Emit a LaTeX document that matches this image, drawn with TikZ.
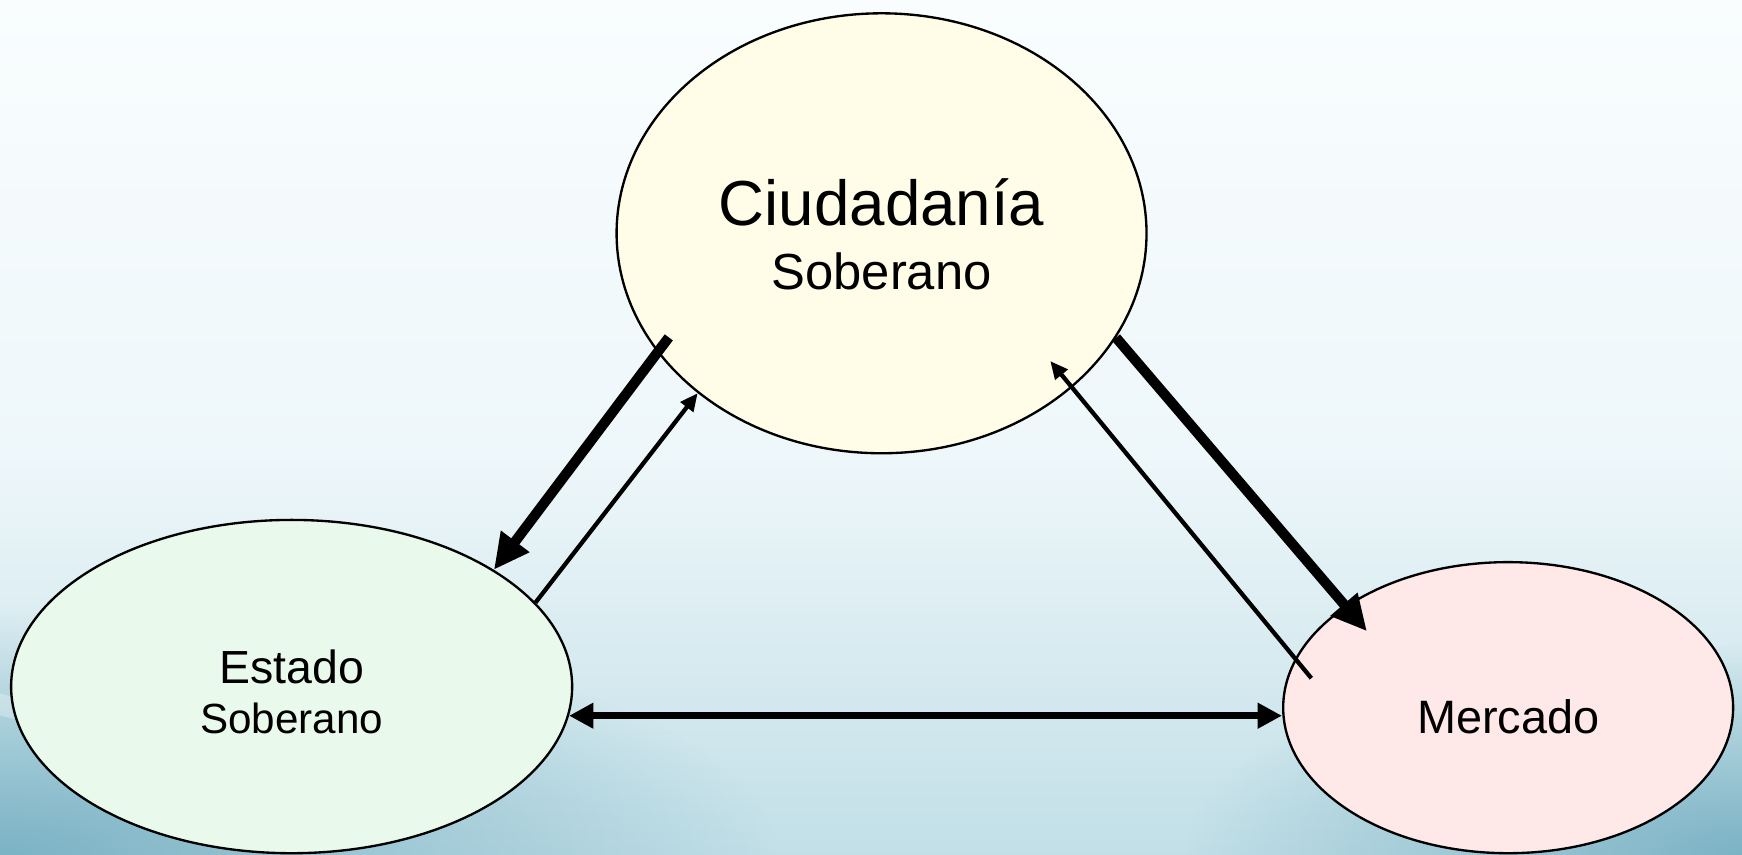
\documentclass[tikz,border=0pt]{standalone}
\usepackage{fontspec}
\setmainfont{Liberation Sans}
\usepackage{xcolor}
\usetikzlibrary{shapes.geometric, arrows.meta, fadings}

\definecolor{ciudfill}{HTML}{FFFDE7}
\definecolor{estfill}{HTML}{E9F9EC}
\definecolor{mercfill}{HTML}{FFE8E8}
\definecolor{bgtop}{HTML}{F9FDFE}
\definecolor{bgmid}{HTML}{EEF7FA}
\definecolor{bgbot}{HTML}{C2DFE7}
\definecolor{wave}{HTML}{6FABBF}

\tikzfading[name=esquina, inner color=transparent!15, outer color=transparent!100]

\tikzset{
  blob/.style={ellipse, draw=black, line width=0.6pt, inner sep=0pt},
  fuerte/.style={line width=2.6pt, -{Triangle[length=3.2mm,width=3mm]}},
  debil/.style={line width=1.1pt, -{Triangle[length=1.6mm,width=1.4mm]}},
  doble/.style={line width=1.8pt, {Triangle[length=2.2mm,width=2.2mm]}-{Triangle[length=2.2mm,width=2.2mm]}}
}

\begin{document}
\begin{tikzpicture}
        \useasboundingbox (0,0) rectangle (15.68,7.69);
        % fondo
        \shade[top color=bgtop, bottom color=bgmid] (0,3.6) rectangle (15.68,7.69);
        \shade[top color=bgmid, bottom color=bgbot] (0,0) rectangle (15.68,3.6);
        \fill[wave, path fading=esquina] (0,0) ellipse [x radius=7cm, y radius=2.2cm];
        \fill[wave, path fading=esquina] (15.68,0) ellipse [x radius=5cm, y radius=1.9cm];
        \fill[white, opacity=0.3] (0,1.45) .. controls (0.8,1.2) and (1.6,1.0) .. (3,0.75) .. controls (1.6,0.9) and (0.8,1.05) .. (0,1.25) -- cycle;

        % elipses
        \node[blob, fill=ciudfill, minimum width=4.77cm, minimum height=3.96cm] (ciud) at (7.935,5.59) {};
        \node[blob, fill=estfill, minimum width=5.05cm, minimum height=3.0cm] (estado) at (2.625,1.51) {};
        \node[blob, fill=mercfill, minimum width=4.05cm, minimum height=2.62cm] (merc) at (13.575,1.32) {};

        % textos
        \node[anchor=base] (ciudA) at (7.935,5.66) {\fontsize{16.3}{19}\selectfont Ciudadanía};
        \node[anchor=base] (ciudB) at (7.935,5.085) {\fontsize{13}{15}\selectfont Soberano};
        \node[anchor=base] (estA) at (2.625,1.54) {\fontsize{11.9}{14}\selectfont Estado};
        \node[anchor=base] (estB) at (2.625,1.09) {\fontsize{10.8}{13}\selectfont Soberano};
        \node[anchor=base] (mercA) at (13.575,1.09) {\fontsize{12}{14}\selectfont Mercado};

        % flechas
        \draw[fuerte, shorten <=-1.7mm] (ciud.208.6) -- (estado.30.8);
        \draw[debil] (estado.19) -- (ciud.221.4);
        \draw[fuerte, shorten >=-3mm] (ciud.336.2) -- (merc.148.2);
        \draw[debil, shorten <=-2.3mm, shorten >=-3.1mm] (merc.167) -- (ciud.321.1);
        \draw[doble] (estado.-6.7) -- (estado.-6.7 -| merc.west);
    \end{tikzpicture}
\end{document}
